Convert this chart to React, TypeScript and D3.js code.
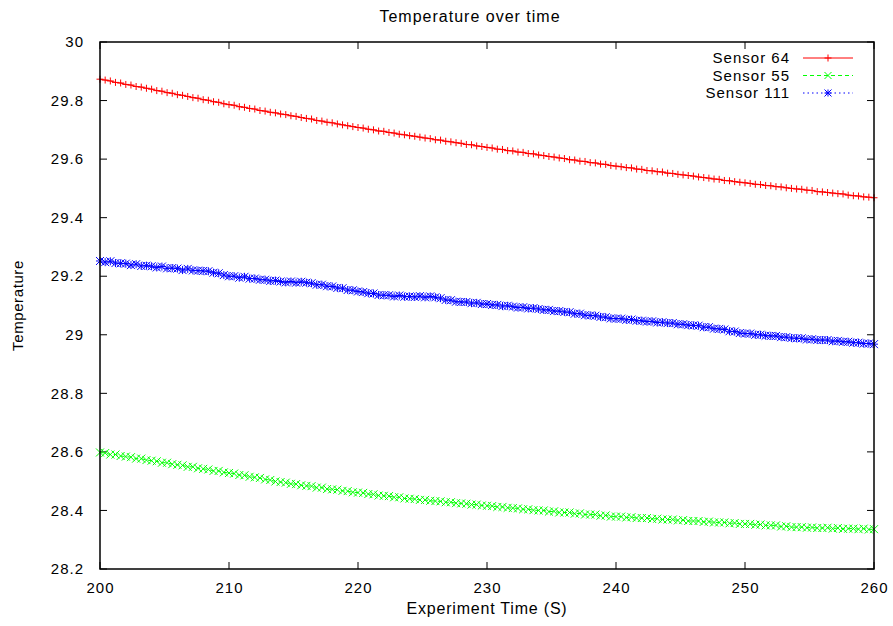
import React from "react";
import * as d3 from "d3";

// Sampling grid of the recording (seconds)
const sampleStart = 200;
const sampleStep = 0.4;

const seriesNames = ["Sensor 64", "Sensor 55", "Sensor 111"];

const sensor64 = [
  29.873, 29.870, 29.867, 29.862, 29.860, 29.855, 29.853, 29.848, 29.846, 29.842,
  29.839, 29.834, 29.832, 29.827, 29.825, 29.820, 29.818, 29.814, 29.810, 29.808,
  29.803, 29.801, 29.796, 29.794, 29.789, 29.786, 29.784, 29.779, 29.777, 29.773,
  29.771, 29.766, 29.764, 29.760, 29.758, 29.754, 29.752, 29.748, 29.746, 29.742,
  29.739, 29.737, 29.732, 29.730, 29.726, 29.724, 29.720, 29.717, 29.714, 29.711,
  29.708, 29.706, 29.702, 29.700, 29.696, 29.695, 29.691, 29.689, 29.685, 29.683,
  29.680, 29.678, 29.675, 29.672, 29.670, 29.666, 29.665, 29.661, 29.659, 29.656,
  29.654, 29.650, 29.649, 29.645, 29.643, 29.640, 29.638, 29.634, 29.633, 29.629,
  29.628, 29.624, 29.623, 29.619, 29.618, 29.614, 29.612, 29.609, 29.607, 29.604,
  29.602, 29.598, 29.597, 29.593, 29.592, 29.588, 29.587, 29.583, 29.582, 29.578,
  29.576, 29.574, 29.571, 29.570, 29.566, 29.565, 29.561, 29.560, 29.557, 29.556,
  29.552, 29.551, 29.548, 29.546, 29.544, 29.542, 29.539, 29.537, 29.535, 29.532,
  29.531, 29.527, 29.526, 29.523, 29.521, 29.519, 29.517, 29.514, 29.513, 29.510,
  29.509, 29.506, 29.505, 29.502, 29.500, 29.498, 29.497, 29.494, 29.493, 29.489,
  29.488, 29.486, 29.484, 29.482, 29.481, 29.477, 29.475, 29.474, 29.471, 29.470,
  29.468,
];

const sensor55 = [
  28.598, 28.596, 28.591, 28.591, 28.586, 28.584, 28.582, 28.577, 28.577, 28.572,
  28.570, 28.568, 28.563, 28.563, 28.558, 28.556, 28.554, 28.549, 28.549, 28.544,
  28.542, 28.540, 28.535, 28.535, 28.530, 28.528, 28.526, 28.521, 28.520, 28.515,
  28.513, 28.511, 28.506, 28.504, 28.499, 28.497, 28.495, 28.491, 28.490, 28.486,
  28.484, 28.483, 28.478, 28.478, 28.473, 28.472, 28.471, 28.467, 28.466, 28.462,
  28.461, 28.460, 28.456, 28.455, 28.451, 28.450, 28.449, 28.445, 28.445, 28.441,
  28.440, 28.439, 28.436, 28.436, 28.433, 28.432, 28.431, 28.428, 28.428, 28.425,
  28.424, 28.423, 28.420, 28.420, 28.417, 28.416, 28.415, 28.412, 28.412, 28.409,
  28.408, 28.407, 28.404, 28.404, 28.401, 28.400, 28.400, 28.396, 28.397, 28.393,
  28.393, 28.393, 28.389, 28.390, 28.386, 28.386, 28.386, 28.382, 28.383, 28.379,
  28.379, 28.379, 28.376, 28.377, 28.374, 28.374, 28.374, 28.371, 28.372, 28.369,
  28.369, 28.369, 28.366, 28.367, 28.364, 28.364, 28.364, 28.361, 28.362, 28.359,
  28.359, 28.359, 28.356, 28.357, 28.354, 28.354, 28.354, 28.351, 28.352, 28.349,
  28.349, 28.349, 28.345, 28.346, 28.343, 28.343, 28.343, 28.341, 28.342, 28.340,
  28.340, 28.341, 28.338, 28.340, 28.337, 28.338, 28.338, 28.336, 28.338, 28.335,
  28.336,
];

const sensor111 = [
  29.252, 29.248, 29.251, 29.245, 29.244, 29.243, 29.238, 29.241, 29.235, 29.236,
  29.234, 29.230, 29.233, 29.227, 29.228, 29.226, 29.221, 29.225, 29.220, 29.219,
  29.218, 29.217, 29.212, 29.210, 29.204, 29.200, 29.200, 29.195, 29.198, 29.192,
  29.192, 29.188, 29.188, 29.184, 29.185, 29.182, 29.179, 29.182, 29.178, 29.181,
  29.178, 29.176, 29.171, 29.171, 29.166, 29.165, 29.160, 29.159, 29.153, 29.152,
  29.148, 29.146, 29.142, 29.141, 29.136, 29.135, 29.135, 29.131, 29.134, 29.130,
  29.131, 29.129, 29.132, 29.128, 29.131, 29.128, 29.125, 29.119, 29.118, 29.113,
  29.112, 29.112, 29.108, 29.109, 29.105, 29.105, 29.102, 29.102, 29.098, 29.099,
  29.096, 29.093, 29.094, 29.090, 29.091, 29.088, 29.085, 29.085, 29.081, 29.081,
  29.078, 29.077, 29.072, 29.072, 29.067, 29.066, 29.065, 29.061, 29.060, 29.056,
  29.055, 29.055, 29.051, 29.052, 29.048, 29.048, 29.045, 29.046, 29.042, 29.043,
  29.040, 29.040, 29.036, 29.036, 29.033, 29.032, 29.031, 29.026, 29.026, 29.021,
  29.020, 29.018, 29.012, 29.011, 29.006, 29.004, 29.004, 29.000, 29.000, 28.997,
  28.996, 28.996, 28.992, 28.992, 28.989, 28.988, 28.988, 28.984, 28.985, 28.982,
  28.982, 28.982, 28.978, 28.979, 28.976, 28.976, 28.973, 28.973, 28.970, 28.970,
  28.968,
];

const xTicks = [200, 210, 220, 230, 240, 250, 260];
const yTicks = [28.2, 28.4, 28.6, 28.8, 29, 29.2, 29.4, 29.6, 29.8, 30];

type Marker = "plus" | "cross" | "star";

const styles: { color: string; dash: string; marker: Marker; size: number }[] = [
  { color: "#ff0000", dash: "none", marker: "plus", size: 3.5 },
  { color: "#00ff00", dash: "4,3", marker: "cross", size: 4 },
  { color: "#0000ff", dash: "1.5,3", marker: "star", size: 4 },
];

const W = 893;
const H = 626;
const margin = { left: 100, right: W - 874, top: 42, bottom: H - 569 };
const FONT = "'Liberation Sans', Arial, Helvetica, sans-serif";

function markerPath(kind: Marker, x: number, y: number, r: number): string {
  const plus = `M${x - r},${y}H${x + r}M${x},${y - r}V${y + r}`;
  const cross = `M${x - r},${y - r}L${x + r},${y + r}M${x - r},${y + r}L${x + r},${y - r}`;
  if (kind === "plus") return plus;
  if (kind === "cross") return cross;
  return plus + cross;
}

export default function App() {
  const x = d3
    .scaleLinear()
    .domain([200, 260])
    .range([margin.left, W - margin.right]);
  const y = d3
    .scaleLinear()
    .domain([28.2, 30])
    .range([H - margin.bottom, margin.top]);

  const series = [sensor64, sensor55, sensor111].map((vals, si) => ({
    name: seriesNames[si],
    ...styles[si],
    points: vals.map((v, i) => ({ t: sampleStart + i * sampleStep, v })),
  }));

  const line = d3
    .line<{ t: number; v: number }>()
    .x((d) => x(d.t))
    .y((d) => y(d.v));

  const x0 = x.range()[0];
  const x1 = x.range()[1];
  const yb = y.range()[0];
  const yt = y.range()[1];
  const tick = 7;

  const textProps = { fontFamily: FONT, fill: "#000" };

  return (
    <svg width={W} height={H} style={{ display: "block", position: "absolute", left: 0, top: 0 }}>
      <rect width={W} height={H} fill="#fff" />

      {/* title */}
      <text x={470} y={22} textAnchor="middle" fontSize={16} letterSpacing={1} {...textProps}>
        Temperature over time
      </text>

      {/* y ticks: mirrored on both sides, pointing inward */}
      {yTicks.map((v) => (
        <g key={`y${v}`}>
          <line x1={x0} x2={x0 + tick} y1={y(v)} y2={y(v)} stroke="#000" />
          <line x1={x1} x2={x1 - tick} y1={y(v)} y2={y(v)} stroke="#000" />
          <text
            x={x0 - 16}
            y={y(v)}
            dy="0.35em"
            textAnchor="end"
            fontSize={15}
            letterSpacing={1}
            {...textProps}
          >
            {d3.format("~g")(v)}
          </text>
        </g>
      ))}

      {/* x ticks */}
      {xTicks.map((v) => (
        <g key={`x${v}`}>
          <line x1={x(v)} x2={x(v)} y1={yb} y2={yb - tick} stroke="#000" />
          <line x1={x(v)} x2={x(v)} y1={yt} y2={yt + tick} stroke="#000" />
          <text
            x={x(v) + 0.5}
            y={yb + 24}
            textAnchor="middle"
            fontSize={15}
            letterSpacing={1}
            {...textProps}
          >
            {v}
          </text>
        </g>
      ))}

      {/* axis titles */}
      <text
        x={(x0 + x1) / 2}
        y={614}
        textAnchor="middle"
        fontSize={16}
        letterSpacing={0.8}
        {...textProps}
      >
        Experiment Time (S)
      </text>
      <text
        transform={`translate(23,${(yb + yt) / 2}) rotate(-90)`}
        textAnchor="middle"
        fontSize={15}
        letterSpacing={0.6}
        {...textProps}
      >
        Temperature
      </text>

      {/* data */}
      <g>
        {series.map((s) => (
          <g key={s.name}>
            <path
              d={line(s.points) || ""}
              fill="none"
              stroke={s.color}
              strokeWidth={1}
              strokeDasharray={s.dash}
            />
            <path
              d={s.points.map((p) => markerPath(s.marker, x(p.t), y(p.v), s.size)).join("")}
              fill="none"
              stroke={s.color}
              strokeWidth={1}
            />
          </g>
        ))}
      </g>

      {/* legend */}
      {series.map((s, i) => {
        const ly = 58 + i * 17.5;
        return (
          <g key={`leg${s.name}`}>
            <text
              x={790}
              y={ly}
              dy="0.35em"
              textAnchor="end"
              fontSize={15}
              letterSpacing={1}
              {...textProps}
            >
              {s.name}
            </text>
            <line
              x1={803}
              x2={853}
              y1={ly}
              y2={ly}
              stroke={s.color}
              strokeDasharray={s.dash}
            />
            <path d={markerPath(s.marker, 828, ly, 3.5)} fill="none" stroke={s.color} />
          </g>
        );
      })}

      {/* frame */}
      <rect
        x={x0}
        y={yt}
        width={x1 - x0}
        height={yb - yt}
        fill="none"
        stroke="#000"
        strokeWidth={1.5}
      />
    </svg>
  );
}
